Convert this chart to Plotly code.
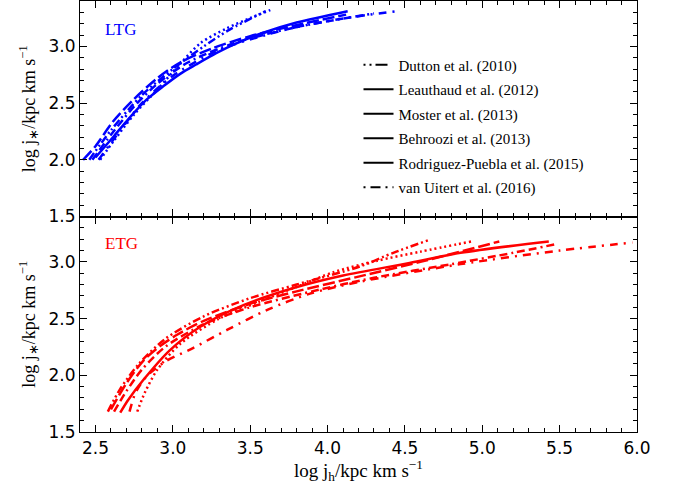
import plotly.graph_objects as go

# log j_h values (x) and log j_* values (y) for each SHMR model
models = ["Dutton et al. (2010)", "Leauthaud et al. (2012)", "Moster et al. (2013)",
          "Behroozi et al. (2013)", "Rodriguez-Puebla et al. (2015)", "van Uitert et al. (2016)"]

# Late-type galaxies
ltg_dutton_x = [2.46, 2.60, 2.80, 3.00, 3.20, 3.37, 3.60]
ltg_dutton_y = [2.00, 2.26, 2.57, 2.80, 3.00, 3.15, 3.31]
ltg_leauthaud_x = [2.50, 2.62, 2.72, 2.83, 2.94, 3.05, 3.15, 3.28, 3.40, 3.585, 3.80, 4.13]
ltg_leauthaud_y = [2.02, 2.21, 2.37, 2.53, 2.65, 2.76, 2.84, 2.94, 3.02, 3.12, 3.21, 3.31]
ltg_moster_x = [2.42, 2.50, 2.615, 2.745, 2.90, 3.05, 3.25, 3.50, 3.84, 4.12]
ltg_moster_y = [2.00, 2.12, 2.34, 2.53, 2.72, 2.86, 2.98, 3.09, 3.20, 3.28]
ltg_behroozi_x = [2.48, 2.60, 2.75, 2.90, 3.10, 3.40, 3.80, 4.30]
ltg_behroozi_y = [2.00, 2.22, 2.47, 2.67, 2.86, 3.03, 3.17, 3.29]
ltg_rp_x = [2.53, 2.62, 2.75, 2.90, 3.05, 3.18, 3.35, 3.50, 3.63]
ltg_rp_y = [2.00, 2.17, 2.40, 2.62, 2.85, 3.03, 3.16, 3.25, 3.32]
ltg_vu_x = [2.52, 2.65, 2.80, 3.00, 3.30, 3.60, 3.80, 4.12, 4.45]
ltg_vu_y = [2.00, 2.24, 2.50, 2.74, 2.97, 3.10, 3.17, 3.25, 3.31]

# Early-type galaxies
etg_dutton_x = [2.58, 2.66, 2.78, 2.95, 3.20, 3.50, 3.80, 4.21, 4.425, 4.65]
etg_dutton_y = [1.68, 1.88, 2.10, 2.32, 2.52, 2.68, 2.80, 2.96, 3.08, 3.19]
etg_leauthaud_x = [2.66, 2.71, 2.81, 2.98, 3.18, 3.46, 3.78, 4.10, 4.53, 4.86, 5.43]
etg_leauthaud_y = [1.67, 1.78, 1.96, 2.22, 2.43, 2.62, 2.77, 2.88, 2.99, 3.08, 3.18]
etg_moster_x = [2.60, 2.70, 2.81, 2.92, 3.03, 3.20, 3.50, 3.80, 4.20, 4.60, 5.11]
etg_moster_y = [1.70, 1.93, 2.13, 2.26, 2.36, 2.48, 2.63, 2.74, 2.87, 3.00, 3.18]
etg_behroozi_x = [2.62, 2.70, 2.80, 2.95, 3.20, 3.50, 3.90, 4.30, 4.80, 5.20, 5.49]
etg_behroozi_y = [1.68, 1.86, 2.05, 2.25, 2.45, 2.60, 2.74, 2.86, 2.98, 3.08, 3.16]
etg_rp_x = [2.77, 2.82, 2.90, 3.05, 3.30, 3.56, 3.80, 4.04, 4.32, 4.60, 4.93]
etg_rp_y = [1.68, 1.85, 2.05, 2.28, 2.50, 2.65, 2.78, 2.91, 3.01, 3.09, 3.18]
etg_vu_x = [2.72, 2.76, 2.83, 2.95, 3.13, 3.35, 3.607, 3.887, 4.21, 4.86, 5.50, 5.97]
etg_vu_y = [1.68, 1.85, 1.99, 2.12, 2.24, 2.40, 2.575, 2.72, 2.825, 2.98, 3.10, 3.17]

ltg = [(ltg_dutton_x, ltg_dutton_y), (ltg_leauthaud_x, ltg_leauthaud_y),
       (ltg_moster_x, ltg_moster_y), (ltg_behroozi_x, ltg_behroozi_y),
       (ltg_rp_x, ltg_rp_y), (ltg_vu_x, ltg_vu_y)]
etg = [(etg_dutton_x, etg_dutton_y), (etg_leauthaud_x, etg_leauthaud_y),
       (etg_moster_x, etg_moster_y), (etg_behroozi_x, etg_behroozi_y),
       (etg_rp_x, etg_rp_y), (etg_vu_x, etg_vu_y)]

x_ticks = [2.5, 3.0, 3.5, 4.0, 4.5, 5.0, 5.5, 6.0]
y_ticks = [1.5, 2.0, 2.5, 3.0]

# line styles in the panels
dashes = ["8px,3px,2px,3px,2px,3px", "solid", "12px,4px",
          "8px,4px,8px,4px,2px,4px", "2px,3px", "8px,6px,2px,6px"]
# line styles shown in the key
key_dashes = ["2px,4px,2px,4px,12px,6px", "solid", "solid", "solid", "solid",
              "2px,5px,10px,5px"]

SERIF = "Liberation Serif"
TICKFONT = dict(family="DejaVu Sans", size=17, color="black")

fig = go.Figure()

for (x, y), d in zip(ltg, dashes):
    fig.add_trace(go.Scatter(x=x, y=y, mode="lines", xaxis="x2", yaxis="y2",
                             line=dict(color="#0000ff", width=2.5, dash=d,
                                       shape="spline", smoothing=0.8),
                             showlegend=False, hoverinfo="skip"))
for (x, y), d in zip(etg, dashes):
    fig.add_trace(go.Scatter(x=x, y=y, mode="lines", xaxis="x", yaxis="y",
                             line=dict(color="#ff0000", width=2.5, dash=d,
                                       shape="spline", smoothing=0.8),
                             showlegend=False, hoverinfo="skip"))

# key entries (black handles)
for i, (name, d) in enumerate(zip(models, key_dashes)):
    fig.add_trace(go.Scatter(x=[None], y=[None], mode="lines", name=name,
                             xaxis="x2", yaxis="y2", legendgroup=f"g{i}",
                             line=dict(color="black", width=2, dash=d)))

axis_common = dict(
    showline=True, linecolor="black", linewidth=1.2, mirror="allticks",
    ticks="inside", ticklen=7, tickwidth=1, tickcolor="black",
    showgrid=False, zeroline=False, tickfont=TICKFONT,
)
minor_x = dict(ticks="inside", ticklen=3.5, dtick=0.1, tick0=2.5, tickcolor="black")
minor_y = dict(ticks="inside", ticklen=3.5, dtick=0.1, tick0=1.5, tickcolor="black")
ytitle = "log j<sub>∗</sub>/kpc km s<sup>−1</sup>"

fig.update_layout(
    width=678, height=489,
    margin=dict(l=80, r=41, t=1, b=57),
    paper_bgcolor="white", plot_bgcolor="white",
    font=dict(family=SERIF, color="black"),
    xaxis=dict(**axis_common, range=[2.4, 6.0], anchor="y", domain=[0, 1],
               tickvals=x_ticks, ticktext=[f"{v:.1f}" for v in x_ticks],
               minor=minor_x,
               title=dict(text="log j<sub>h</sub>/kpc km s<sup>−1</sup>",
                          font=dict(family=SERIF, size=19), standoff=6)),
    xaxis2=dict(**axis_common, range=[2.4, 6.0], anchor="y2", matches="x",
                showticklabels=False, tickvals=x_ticks, minor=minor_x),
    yaxis=dict(**axis_common, range=[1.5, 3.4], domain=[0, 0.5], anchor="x",
               tickvals=y_ticks, ticktext=[f"{v:.1f}" for v in y_ticks],
               minor=minor_y,
               title=dict(text=ytitle, font=dict(family=SERIF, size=18),
                          standoff=8)),
    yaxis2=dict(**axis_common, range=[1.5, 3.4], domain=[0.5, 1], anchor="x2",
                tickvals=y_ticks, ticktext=[f"{v:.1f}" for v in y_ticks],
                minor=minor_y,
                title=dict(text=ytitle, font=dict(family=SERIF, size=18),
                           standoff=8)),
    legend=dict(x=0.50, y=0.89, xanchor="left", yanchor="top",
                bgcolor="rgba(0,0,0,0)", borderwidth=0,
                font=dict(family=SERIF, size=15, color="black"),
                itemwidth=30, tracegroupgap=2),
    annotations=[
        dict(text="LTG", x=2.55, y=3.15, xref="x2", yref="y2", showarrow=False,
             xanchor="left", yanchor="middle",
             font=dict(family=SERIF, size=17, color="#0000ff")),
        dict(text="ETG", x=2.55, y=3.16, xref="x", yref="y", showarrow=False,
             xanchor="left", yanchor="middle",
             font=dict(family=SERIF, size=17, color="#ff0000")),
    ],
)

fig.write_html("out.html")
